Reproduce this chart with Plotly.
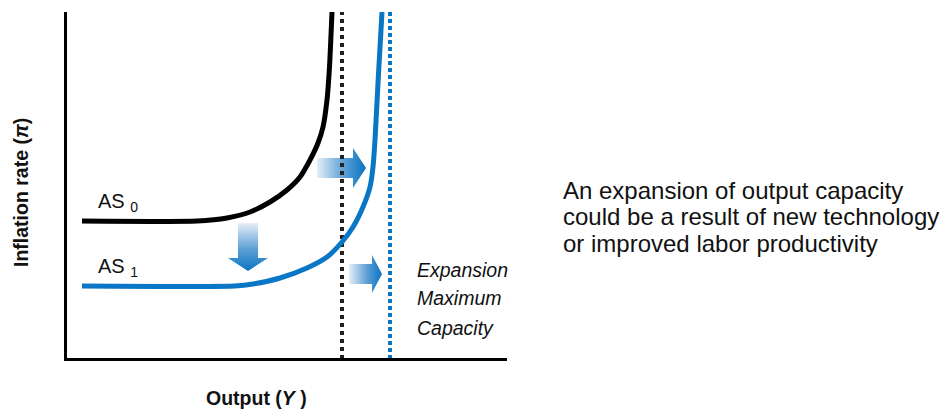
import plotly.graph_objects as go

# ---- data (abstract units: output on x, inflation on y) ----
as0_output = [17, 132, 162, 185, 205, 222, 235, 245, 253, 258, 262, 264.5, 267]
as0_inflation = [138, 138, 141, 147, 157, 169, 182, 199, 216, 232, 259, 292, 347]

as1_output = [17, 170, 188, 215, 242, 262, 277, 288, 298, 305, 308, 310, 313, 317]
as1_inflation = [73, 73, 75, 81, 91, 102, 117, 132, 152, 172, 192, 219, 276, 347]

max_capacity_0 = 277
max_capacity_1 = 325
inflation_range = [1, 347]
output_range = [2, 442]

# arrows: (tail_x, tail_y, tip_x, tip_y)
arrow_right_upper = (252, 191, 301, 191)
arrow_right_lower = (284, 85, 317, 85)
arrow_down = (183, 136, 183, 88)

BLUE = "#0a77c6"
BLACK = "#000000"

# plot area placement (window pixels; page body adds an 8px offset)
PLOT_L_WIN, PLOT_W = 67, 440
PLOT_B_WIN, PLOT_H = 358, 346


def px(x):
    return (x - PLOT_L_WIN) / PLOT_W


def py(y):
    return (PLOT_B_WIN - y) / PLOT_H


fig = go.Figure()


def arrow_polygon(a, shaft_half, head_half, head_len):
    x0, y0, x1, y1 = a
    if y0 == y1:  # horizontal
        hx = x1 - head_len
        xs = [x0, hx, hx, x1, hx, hx, x0, x0]
        ys = [y0 - shaft_half, y0 - shaft_half, y0 - head_half, y0,
              y0 + head_half, y0 + shaft_half, y0 + shaft_half, y0 - shaft_half]
    else:  # vertical, pointing down
        hy = y1 + head_len
        ys = [y0, hy, hy, y1, hy, hy, y0, y0]
        xs = [x0 - shaft_half, x0 - shaft_half, x0 - head_half, x0,
              x0 + head_half, x0 + shaft_half, x0 + shaft_half, x0 - shaft_half]
    return xs, ys


grad_h = dict(type="horizontal", colorscale=[[0, "#e6eef8"], [0.55, "#5b9fd6"], [1, "#0b74c2"]])
grad_v = dict(type="vertical", colorscale=[[0, "#0b74c2"], [0.45, "#5b9fd6"], [1, "#e6eef8"]])

for a, g, sh, hh, hl in [
    (arrow_right_upper, grad_h, 10, 20, 13),
    (arrow_right_lower, grad_h, 10, 19, 10),
    (arrow_down, grad_v, 10, 20, 13),
]:
    xs, ys = arrow_polygon(a, sh, hh, hl)
    fig.add_trace(go.Scatter(x=xs, y=ys, mode="lines", fill="toself",
                             fillgradient=g, line=dict(width=0),
                             hoverinfo="skip", showlegend=False))

# max capacity dotted lines
fig.add_trace(go.Scatter(x=[max_capacity_0, max_capacity_0], y=[0, inflation_range[1]],
                         mode="lines", line=dict(color="#222222", width=4, dash="4px,4px"),
                         showlegend=False, hoverinfo="skip"))
fig.add_trace(go.Scatter(x=[max_capacity_1, max_capacity_1], y=[0, inflation_range[1]],
                         mode="lines", line=dict(color=BLUE, width=4, dash="4px,3px"),
                         showlegend=False, hoverinfo="skip"))

# AS curves
fig.add_trace(go.Scatter(x=as0_output, y=as0_inflation, mode="lines",
                         line=dict(color=BLACK, width=5, shape="spline", smoothing=0.6),
                         showlegend=False, hoverinfo="skip"))
fig.add_trace(go.Scatter(x=as1_output, y=as1_inflation, mode="lines",
                         line=dict(color=BLUE, width=5, shape="spline", smoothing=0.6),
                         showlegend=False, hoverinfo="skip"))

FONT = "Liberation Sans, Arial, sans-serif"
ann = []


def add(text, x, y, size, xanchor="left", italic=False, bold=False, **kw):
    t = text
    if italic:
        t = "<i>" + t + "</i>"
    if bold:
        t = "<b>" + t + "</b>"
    ann.append(dict(text=t, x=px(x), y=py(y), xref="paper", yref="paper", showarrow=False,
                    xanchor=xanchor, yanchor="middle",
                    font=dict(family=FONT, size=size, color="#111111"), **kw))


add("AS <sub>0</sub>", 96, 202, 20)
add("AS <sub>1</sub>", 96, 267, 20)
add("Expansion", 415, 270, 19.5, italic=True)
add("Maximum", 415, 298, 19.5, italic=True)
add("Capacity", 415, 328, 19.5, italic=True)
add("An expansion of output capacity", 561, 191, 24)
add("could be a result of new technology", 561, 217, 24)
add("or improved labor productivity", 561, 243, 24)
add("Output (<i>Y</i> )", 256, 398, 19.5, xanchor="center", bold=True)
add("Inflation rate (<i>π</i>)", 21, 193, 19.5, xanchor="center", bold=True, textangle=-90)

fig.update_layout(
    width=950, height=410,
    margin=dict(l=59, r=451, t=4, b=60),
    paper_bgcolor="white", plot_bgcolor="white",
    annotations=ann,
    xaxis=dict(range=output_range, showline=True, linecolor="black", linewidth=3,
               showgrid=False, zeroline=False, showticklabels=False, ticks=""),
    yaxis=dict(range=inflation_range, showline=True, linecolor="black", linewidth=3,
               showgrid=False, zeroline=False, showticklabels=False, ticks=""),
)

fig.write_html("out.html")
